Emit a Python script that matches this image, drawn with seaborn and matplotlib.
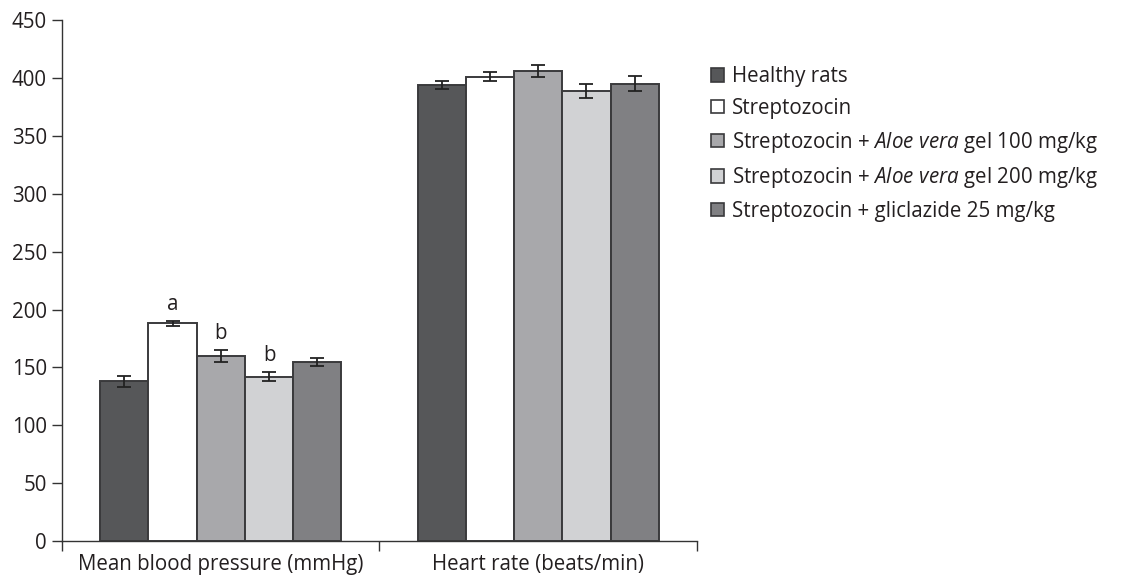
import matplotlib
matplotlib.use("Agg")
import matplotlib.pyplot as plt
import seaborn as sns
import pandas as pd
import numpy as np

categories = ["Mean blood pressure (mmHg)", "Heart rate (beats/min)"]
groups = [
    "Healthy rats",
    "Streptozocin",
    "Streptozocin + $\\it{Aloe\\ vera}$ gel 100 mg/kg",
    "Streptozocin + $\\it{Aloe\\ vera}$ gel 200 mg/kg",
    "Streptozocin + gliclazide 25 mg/kg",
]
bp_values = [138, 188, 160, 142, 155]
bp_errors = [5, 2, 5, 4, 3.5]
hr_values = [394, 401, 406, 389, 395]
hr_errors = [3.5, 4, 5, 6, 6.5]
bp_letters = ["", "a", "b", "b", ""]
hr_letters = ["", "", "", "", ""]
colors = ["#555759", "#ffffff", "#a7a8ab", "#d1d2d4", "#7f8083"]

sns.set_theme(style="ticks")
plt.rcParams["font.family"] = ["Open Sans", "DejaVu Sans"]
plt.rcParams["mathtext.fontset"] = "custom"
plt.rcParams["mathtext.it"] = "Open Sans:italic"
plt.rcParams["mathtext.rm"] = "Open Sans"

FS = 14.8
TXT = "#231f20"

rows = []
for g, v, e, l in zip(groups, bp_values, bp_errors, bp_letters):
    rows.append(dict(category=categories[0], group=g, value=v, err=e, letter=l))
for g, v, e, l in zip(groups, hr_values, hr_errors, hr_letters):
    rows.append(dict(category=categories[1], group=g, value=v, err=e, letter=l))
df = pd.DataFrame(rows)

fig = plt.figure(figsize=(11.24, 5.75), dpi=100)
ax = fig.add_axes([0.0552, 0.059, 0.5648, 0.906])

sns.barplot(data=df, x="category", y="value", hue="group", hue_order=groups,
            order=categories, palette=colors, width=0.76, errorbar=None,
            edgecolor="#3a3a3c", linewidth=1.4, ax=ax, legend=True)

for gi, g in enumerate(groups):
    for ci, c in enumerate(categories):
        p = ax.patches[gi * len(categories) + ci]
        row = df[(df.category == c) & (df.group == g)].iloc[0]
        xc = p.get_x() + p.get_width() / 2
        ax.errorbar(xc, row.value, yerr=row.err, fmt="none", ecolor="#222222",
                    elinewidth=1.3, capsize=5, capthick=1.3, zorder=5)
        if row.letter:
            ax.text(xc, row.value + row.err + 5, row.letter, ha="center", va="bottom",
                    fontsize=FS, color=TXT)

ax.set_ylim(0, 450)
ax.set_yticks(np.arange(0, 451, 50))
ax.set_xlim(-0.5, 1.5)
ax.set_xticks([0, 1])
ax.set_xticklabels(categories)
ax.set_xticks([-0.5, 0.5, 1.5], minor=True)
ax.tick_params(axis="x", which="major", length=0, labelsize=FS, colors=TXT, pad=9)
ax.tick_params(axis="x", which="minor", length=7, width=1, color="#333333")
ax.tick_params(axis="y", length=7, width=1, color="#333333", labelsize=FS,
               labelcolor=TXT, pad=4)
ax.set_xlabel("")
ax.set_ylabel("")
for s in ["top", "right"]:
    ax.spines[s].set_visible(False)
for s in ["left", "bottom"]:
    ax.spines[s].set_color("#333333")
    ax.spines[s].set_linewidth(1)

handles, labels = ax.get_legend_handles_labels()
ax.legend_.remove()
leg = fig.legend(handles, labels, loc="upper left", bbox_to_anchor=(0.6325, 0.885),
                 frameon=False, fontsize=FS, handlelength=0.62, handleheight=0.62,
                 handletextpad=0.4, labelspacing=0.52, borderaxespad=0, borderpad=0)
for h in leg.legend_handles:
    h.set_edgecolor("#3a3a3c")
    h.set_linewidth(1.2)
for t in leg.get_texts():
    t.set_color(TXT)

fig.savefig("out.png", dpi=100)
